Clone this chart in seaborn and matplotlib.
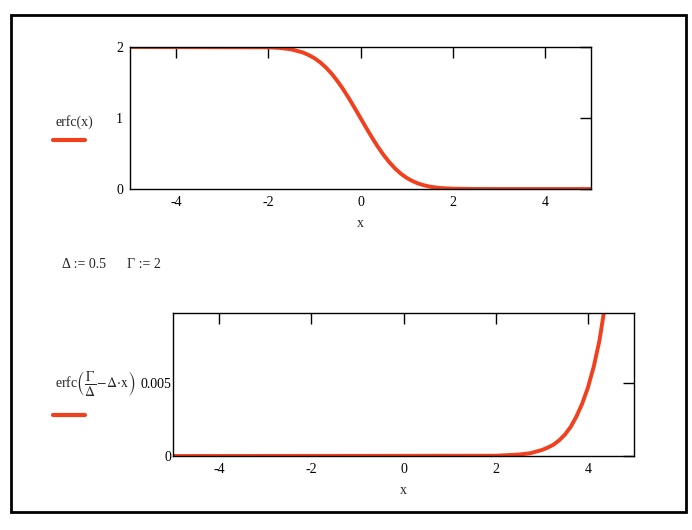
import numpy as np
import pandas as pd
import matplotlib
matplotlib.use("Agg")
import matplotlib.pyplot as plt
import seaborn as sns
from matplotlib.patches import Rectangle

# Values
x_top = [-5.0, -2.0, -1.75, -1.5, -1.25, -1.125, -1.0, -0.875, -0.75, -0.625, -0.5, -0.375,
         -0.25, -0.125, 0.0, 0.125, 0.25, 0.375, 0.5, 0.625, 0.75, 0.875, 1.0, 1.125,
         1.25, 1.375, 1.5, 1.625, 1.75, 2.0, 2.5, 3.0, 5.0]
y_top = [2.0, 1.995, 1.987, 1.966, 1.923, 1.887, 1.843, 1.784, 1.711, 1.623, 1.520, 1.404,
         1.276, 1.140, 1.0, 0.860, 0.724, 0.596, 0.480, 0.377, 0.289, 0.216, 0.157, 0.113,
         0.077, 0.053, 0.034, 0.022, 0.013, 0.005, 0.0004, 0.0, 0.0]

x_bot = [-5.0, 2.0, 2.5, 2.75, 3.0, 3.125, 3.25, 3.375, 3.5, 3.625, 3.75, 3.875, 4.0,
         4.0625, 4.125, 4.1875, 4.25, 4.375, 4.5]
y_bot = [0.0, 0.00002, 0.0001, 0.00019, 0.00041, 0.00057, 0.00077, 0.00107, 0.00146,
         0.00199, 0.0027, 0.00358, 0.00468, 0.0054, 0.0061, 0.0070, 0.0079, 0.0104, 0.0133]

x_ticks = [-4, -2, 0, 2, 4]
top_yticks = [0, 1, 2]
bot_yticks = [0, 0.005]
bot_ytick_labels = ["0", "0.005"]

line_color = "#F0401E"

sns.set_style("white")
plt.rcParams["font.family"] = ["Liberation Serif", "DejaVu Serif"]
plt.rcParams["mathtext.fontset"] = "stix"

fig = plt.figure(figsize=(6.92, 5.30), dpi=100)

def style_axes(ax):
    for s in ax.spines.values():
        s.set_color("black")
        s.set_linewidth(1.0)
    ax.tick_params(direction="in", top=True, right=True, length=8, width=1,
                   labelsize=10, pad=5, colors="black")
    ax.set_xlim(-5, 5)
    ax.set_xticks(x_ticks)
    ax.set_xticklabels([str(v) for v in x_ticks])
    ax.set_ylabel("")

ax1 = fig.add_axes([130/692, 1-189/530, 461/692, 142/530])
df1 = pd.DataFrame({"x": x_top, "y": y_top})
sns.lineplot(data=df1, x="x", y="y", ax=ax1, color=line_color, linewidth=2.8)
style_axes(ax1)
ax1.set_ylim(0, 2)
ax1.set_yticks(top_yticks)
ax1.set_yticklabels([str(v) for v in top_yticks])
ax1.set_xlabel("x", fontsize=10, labelpad=6)

ax2 = fig.add_axes([173/692, 1-456/530, 461/692, 143/530])
df2 = pd.DataFrame({"x": x_bot, "y": y_bot})
sns.lineplot(data=df2, x="x", y="y", ax=ax2, color=line_color, linewidth=2.8)
style_axes(ax2)
ax2.set_ylim(0, 0.0098)
ax2.set_yticks(bot_yticks)
ax2.set_yticklabels(bot_ytick_labels)
ax2.tick_params(axis="y", pad=1)
ax2.set_xlabel("x", fontsize=10, labelpad=6)

# Function labels and legend swatches
fig.text(55/692, 1-122/530, "erfc(x)", fontsize=10, va="center", ha="left")
fig.add_artist(plt.Line2D([53/692, 85/692], [1-140/530, 1-140/530],
                          color=line_color, linewidth=3, solid_capstyle="round"))

fig.text(55/692, 1-383/530,
         r"erfc$\left(\dfrac{\Gamma}{\Delta}\!-\!\Delta\!\cdot\! \mathrm{x}\right)$",
         fontsize=10, va="center", ha="left")
fig.add_artist(plt.Line2D([53/692, 85/692], [1-415/530, 1-415/530],
                          color=line_color, linewidth=3, solid_capstyle="round"))

fig.text(62/692, 1-265/530, "Δ := 0.5      Γ := 2", fontsize=10, va="center", ha="left")

# Outer frame
fig.add_artist(Rectangle((11/692, 1-512/530), 675/692, 497/530, transform=fig.transFigure,
                         fill=False, edgecolor="black", linewidth=2))

fig.savefig("out.png", dpi=100)
